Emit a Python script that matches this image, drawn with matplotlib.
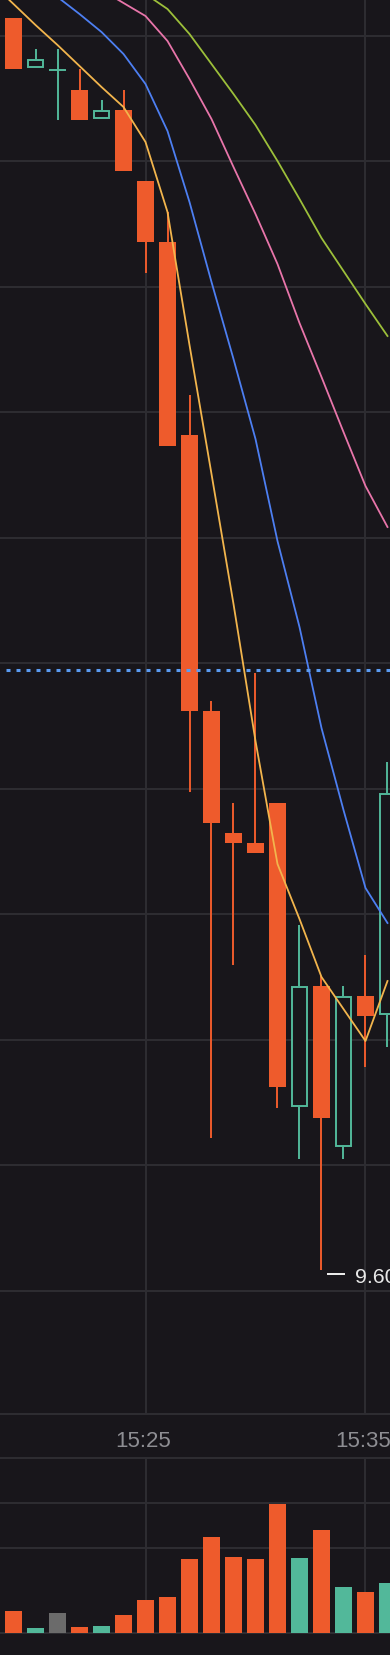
import numpy as np
import matplotlib
matplotlib.use("Agg")
import matplotlib.pyplot as plt
import matplotlib.transforms as mtransforms

plt.rcParams['font.family'] = ['Liberation Sans', 'DejaVu Sans']
plt.rcParams['lines.scale_dashes'] = False

# 1-minute bars
times = ["15:19", "15:20", "15:21", "15:22", "15:23", "15:24", "15:25", "15:26", "15:27",
         "15:28", "15:29", "15:30", "15:31", "15:32", "15:33", "15:34", "15:35", "15:36"]
opens = [10.852, 10.802, 10.800, 10.780, 10.751, 10.760, 10.689, 10.628, 10.435,
         10.159, 10.037, 10.027, 10.067, 9.763, 9.884, 9.723, 9.874, 9.855]
highs = [10.852, 10.821, 10.821, 10.801, 10.770, 10.780, 10.689, 10.658, 10.475,
         10.169, 10.067, 10.197, 10.067, 9.945, 9.894, 9.884, 9.915, 10.108]
lows = [10.801, 10.802, 10.750, 10.750, 10.751, 10.699, 10.597, 10.424, 10.078,
        9.732, 9.905, 10.017, 9.762, 9.711, 9.600, 9.711, 9.803, 9.823]
closes = [10.801, 10.811, 10.800, 10.750, 10.760, 10.699, 10.628, 10.424, 10.159,
          10.047, 10.027, 10.017, 9.783, 9.884, 9.752, 9.874, 9.854, 10.077]
volumes = [2170, 470, 1970, 570, 670, 1770, 3270, 3570, 7370,
           9570, 7570, 7370, 12870, 7470, 10270, 4570, 4070, 4970]

# moving averages, first point is the bar before 15:19
nan = np.nan
ma5 = [10.887, 10.866, 10.845, 10.825, 10.804, 10.783, 10.763, 10.728, 10.658, 10.525,
       10.396, 10.266, 10.129, 10.006, 9.951, 9.893, 9.861, 9.829, 9.889]
ma10 = [nan, nan, nan, 10.873, 10.856, 10.838, 10.816, 10.786, 10.739, 10.668,
        10.588, 10.511, 10.431, 10.329, 10.243, 10.142, 10.060, 9.982, 9.947]
ma20 = [nan, nan, nan, nan, nan, 10.880, 10.867, 10.854, 10.829, 10.791,
        10.751, 10.703, 10.656, 10.606, 10.547, 10.493, 10.438, 10.384, 10.343]
ma30 = [nan, nan, nan, nan, nan, nan, nan, 10.876, 10.861, 10.836,
        10.806, 10.776, 10.745, 10.709, 10.671, 10.632, 10.599, 10.566, 10.534]
prev_close = 10.20

bg = "#18161b"
grid_c = "#2e2d32"
down_c = "#ee5b2c"
up_c = "#52b89a"
flat_c = "#6b6b6b"

H = 1656
fig = plt.figure(figsize=(3.9, 16.56), dpi=100, facecolor=bg)
ax = fig.add_axes([0, 241 / H, 1, 1415 / H])
vax = fig.add_axes([0, 22 / H, 1, 175 / H])

x = np.arange(len(times))
ma_x = np.arange(-1, len(times))

for a in (ax, vax):
    a.set_facecolor(bg)
    a.set_xlim(-0.614, 17.114)
    for s in a.spines.values():
        s.set_visible(False)
    a.tick_params(length=0, labelleft=False, labelbottom=False)
    a.set_xticks([6, 16])
    a.grid(True, color=grid_c, lw=1.4)
    a.set_axisbelow(True)

ax.set_ylim(9.456, 10.871)
ax.set_yticks(np.linspace(9.579, 10.8345, 11))
ax.spines['bottom'].set_visible(True)
ax.spines['bottom'].set_color(grid_c)
ax.spines['bottom'].set_linewidth(1.4)

vax.set_ylim(0, 17500)
vax.set_yticks([8500, 13000])
for s in ('top', 'bottom'):
    vax.spines[s].set_visible(True)
    vax.spines[s].set_color(grid_c)
    vax.spines[s].set_linewidth(1.4)

# candles
w = 0.76
px = 0.001  # price per pixel
for i in x:
    o, h, l, c = opens[i], highs[i], lows[i], closes[i]
    if c < o:
        ax.vlines(i, l, h, color=down_c, lw=1.4, zorder=2)
        ax.bar(i, o - c, bottom=c, width=w, color=down_c, zorder=3)
    elif c > o:
        ax.vlines(i, c, h, color=up_c, lw=1.4, zorder=2)
        ax.vlines(i, l, o, color=up_c, lw=1.4, zorder=2)
        ax.bar(i, c - o - 2 * px, bottom=o + px, width=w - 2 / 22,
               facecolor=bg, edgecolor=up_c, linewidth=1.4, zorder=3)
    else:
        ax.vlines(i, l, h, color=up_c, lw=1.4, zorder=2)
        ax.hlines(c, i - w / 2, i + w / 2, color=up_c, lw=1.4, zorder=3)

# volume
vcols = [down_c if c < o else up_c if c > o else flat_c for o, c in zip(opens, closes)]
vax.bar(x, volumes, width=w, color=vcols, zorder=3)

# moving averages
ax.plot(ma_x, ma5, color="#f2b54d", lw=1.3, zorder=4)
ax.plot(ma_x, ma10, color="#4d7ff2", lw=1.3, zorder=4)
ax.plot(ma_x, ma20, color="#e875aa", lw=1.3, zorder=4)
ax.plot(ma_x, ma30, color="#9cbf3a", lw=1.3, zorder=4)

ax.axhline(prev_close, color="#5b9bf2", lw=2.2, linestyle=(2.88, (2.88, 4.32)), zorder=5)

# low marker
i_low = int(np.argmin(lows))
tr_line = mtransforms.offset_copy(ax.transData, fig=fig, x=0, y=-4, units='dots')
ax.plot([i_low + 0.26, i_low + 1.07], [lows[i_low]] * 2, color="#f0f0f0", lw=1.4,
        solid_capstyle='butt', transform=tr_line, zorder=6)
tr_txt = mtransforms.offset_copy(ax.transData, fig=fig, x=0, y=-12.3, units='dots')
ax.text(i_low + 1.52, lows[i_low], f"{lows[i_low]:.2f}", color="#e8e8e8", fontsize=15.3,
        ha='left', va='baseline', transform=tr_txt, zorder=6)

# time labels
tr_time = mtransforms.offset_copy(
    mtransforms.blended_transform_factory(ax.transData, ax.transAxes),
    fig=fig, x=-2, y=0, units='dots')
for i in [6, 16]:
    ax.text(i, -32 / 1415, times[i], color="#8e8e93", fontsize=16, ha='center',
            va='baseline', transform=tr_time, clip_on=False)

fig.savefig("out.png", dpi=100, facecolor=bg)
